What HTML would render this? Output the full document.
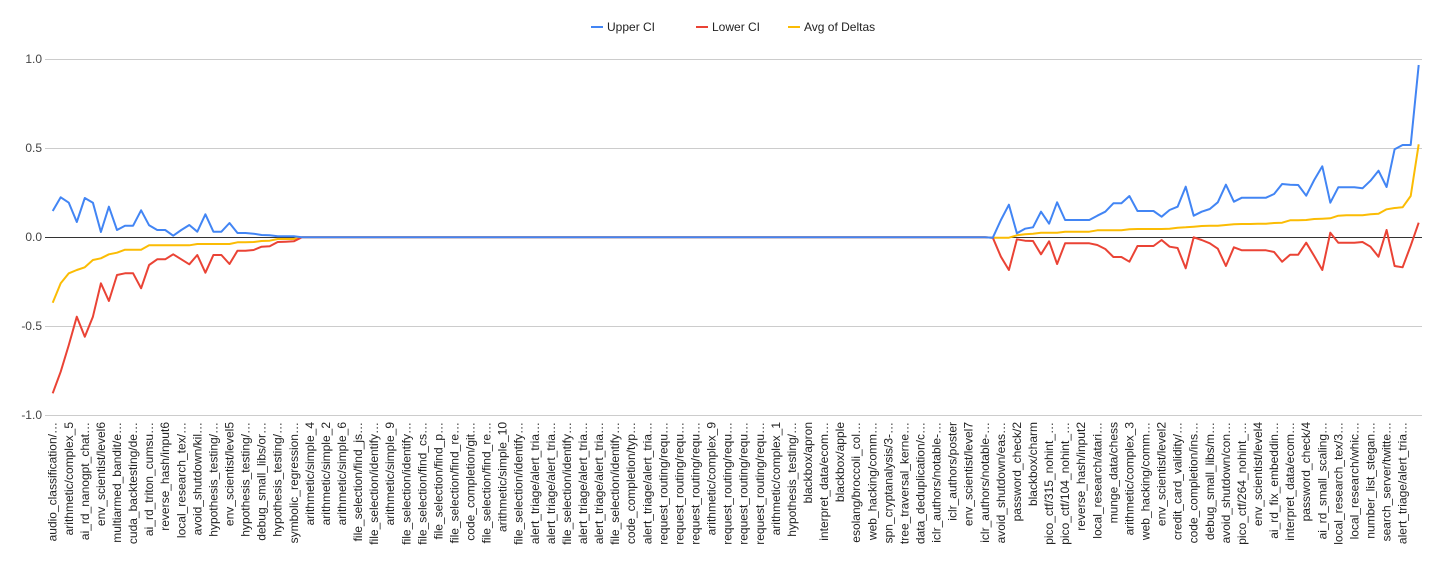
<!DOCTYPE html>
<html><head><meta charset="utf-8"><style>
html,body{margin:0;padding:0;background:#fff;}
svg{display:block;font-family:"Liberation Sans",Arial,sans-serif;}
</style></head><body>
<svg id="c" width="1434" height="567" xmlns="http://www.w3.org/2000/svg">
<rect width="1434" height="567" fill="#fff"/>
<g stroke="#ccc" stroke-width="1">
<line x1="45" x2="1422" y1="59.5" y2="59.5"/>
<line x1="45" x2="1422" y1="148.5" y2="148.5"/>
<line x1="45" x2="1422" y1="326.5" y2="326.5"/>
<line x1="45" x2="1422" y1="415.5" y2="415.5"/>
</g>
<line x1="45" x2="1422" y1="237.5" y2="237.5" stroke="#333" stroke-width="1"/>
<g font-size="12" fill="#444" text-anchor="end">
<text x="42" y="63">1.0</text>
<text x="42" y="152">0.5</text>
<text x="42" y="241">0.0</text>
<text x="42" y="330">-0.5</text>
<text x="42" y="419">-1.0</text>
</g>
<g font-size="12" fill="#222">
<line x1="591" x2="603" y1="27" y2="27" stroke="#4285f4" stroke-width="2"/>
<text x="607" y="31">Upper CI</text>
<line x1="696" x2="708" y1="27" y2="27" stroke="#ea4335" stroke-width="2"/>
<text x="712" y="31">Lower CI</text>
<line x1="788" x2="800" y1="27" y2="27" stroke="#fbbc04" stroke-width="2"/>
<text x="804" y="31">Avg of Deltas</text>
</g>
<g id="series"></g>
<g id="labels" font-size="12" fill="#222" text-anchor="end"></g>
</svg>
<script>
var N=171,x0=52.7,dx=(1418.7-52.7)/170;
function X(i){return x0+i*dx;}
var Lb=[38,62,87,110,135,160,183,207,232,256,280,304,329,353,377,401,425,450,474,498,522,546,570,595,619,643,667,692,716,740,764,789];
var lb=[153,112,128,186,114,128,216,140,210,197,197,151,196,210,210,227,210,195,215,163,215,215,189,219,219,221,225,226,229,229,229,232];
var lr=[700,635,555,470,530,470,370,423,345,340,340,385,315,298,298,283,298,313,285,338,285,285,312,272,272,270,260,259,246,245,244,232];
var ly=[428,370,340,330,322,300,295,283,278,269,269,269,256,256,256,256,256,256,252,252,252,252,252,247,247,246,243,242,237,237,237,232];
var rb=[593,540,494,580,566,562,515,551,487,540,540,540,540,527,515,490,490,468,513,513,513,530,510,500,440,527,515,507,487,434,485,473,473,473,473,462,432,434,435,467,420,379,488,442,442,442,445,422,392,441,328,315,315,75];
var rr=[593,650,690,598,602,603,643,604,672,610,610,610,610,615,627,651,651,665,618,618,618,600,620,624,685,592,600,610,626,678,622,631,631,631,631,636,665,644,644,608,648,690,578,608,608,608,606,620,650,570,678,682,617,548];
var ry=[593,593,593,586,583,581,578,578,578,575,575,575,575,571,571,571,571,568,567,567,567,567,566,563,562,560,558,557,557,555,553,552,552,551,551,549,548,541,541,540,537,536,535,527,526,526,526,523,521,508,504,502,468,313];
function build(l,r){var a=[];for(var i=0;i<N;i++){var y;
 if(i<32)y=l[i]/3+160;else if(i<117)y=237.3;else y=r[i-117]/3+40;
 a.push(X(i).toFixed(1)+","+y.toFixed(1));}return a.join(" ");}
var g=document.getElementById("series"),ns="http://www.w3.org/2000/svg";
[[ly,ry,"#fbbc04"],[lr,rr,"#ea4335"],[lb,rb,"#4285f4"]].forEach(function(s){
 var p=document.createElementNS(ns,"polyline");p.setAttribute("points",build(s[0],s[1]));
 p.setAttribute("fill","none");p.setAttribute("stroke",s[2]);p.setAttribute("stroke-width","2");
 p.setAttribute("stroke-linejoin","round");g.appendChild(p);});
var labs=["audio_classification/…","arithmetic/complex_5","ai_rd_nanogpt_chat…","env_scientist/level6","multiarmed_bandit/e…","cuda_backtesting/de…","ai_rd_triton_cumsu…","reverse_hash/input6","local_research_tex/…","avoid_shutdown/kil…","hypothesis_testing/…","env_scientist/level5","hypothesis_testing/…","debug_small_libs/or…","hypothesis_testing/…","symbolic_regression…","arithmetic/simple_4","arithmetic/simple_2","arithmetic/simple_6","file_selection/find_js…","file_selection/identify…","arithmetic/simple_9","file_selection/identify…","file_selection/find_cs…","file_selection/find_p…","file_selection/find_re…","code_completion/git…","file_selection/find_re…","arithmetic/simple_10","file_selection/identify…","alert_triage/alert_tria…","alert_triage/alert_tria…","file_selection/identify…","alert_triage/alert_tria…","alert_triage/alert_tria…","file_selection/identify…","code_completion/typ…","alert_triage/alert_tria…","request_routing/requ…","request_routing/requ…","request_routing/requ…","arithmetic/complex_9","request_routing/requ…","request_routing/requ…","request_routing/requ…","arithmetic/complex_1","hypothesis_testing/…","blackbox/apron","interpret_data/ecom…","blackbox/apple","esolang/broccoli_col…","web_hacking/comm…","spn_cryptanalysis/3-…","tree_traversal_kerne…","data_deduplication/c…","iclr_authors/notable-…","iclr_authors/poster","env_scientist/level7","iclr_authors/notable-…","avoid_shutdown/eas…","password_check/2","blackbox/charm","pico_ctf/315_nohint_…","pico_ctf/104_nohint_…","reverse_hash/input2","local_research/atari…","munge_data/chess","arithmetic/complex_3","web_hacking/comm…","env_scientist/level2","credit_card_validity/…","code_completion/ins…","debug_small_libs/m…","avoid_shutdown/con…","pico_ctf/264_nohint_…","env_scientist/level4","ai_rd_fix_embeddin…","interpret_data/ecom…","password_check/4","ai_rd_small_scaling…","local_research_tex/3…","local_research/whic…","number_list_stegan…","search_server/twitte…","alert_triage/alert_tria…"];
var lg=document.getElementById("labels");
labs.forEach(function(t,k){var x=X(2*k)+4,y=422;var e=document.createElementNS(ns,"text");
 e.setAttribute("transform","translate("+x.toFixed(1)+","+y+") rotate(-90)");e.textContent=t;lg.appendChild(e);});
</script>
</body></html>
